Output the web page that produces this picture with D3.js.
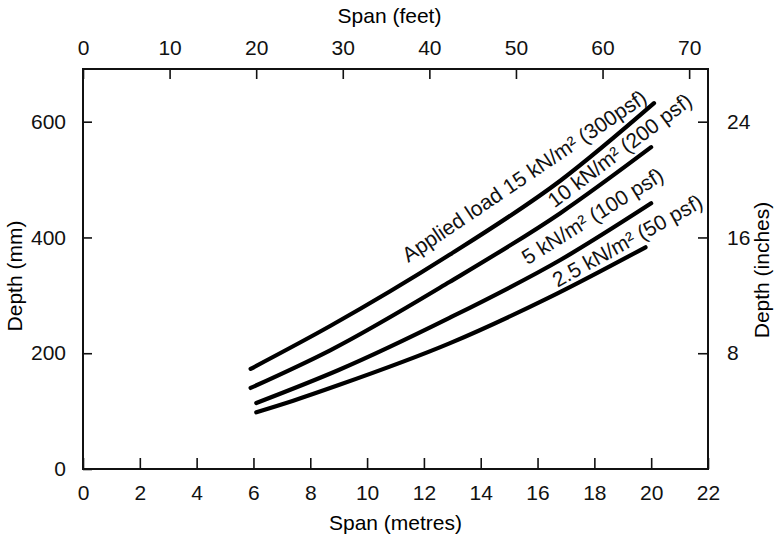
<!DOCTYPE html>
<html>
<head>
<meta charset="utf-8">
<script src="https://cdn.jsdelivr.net/npm/d3@7"></script>
<style>
body { margin: 0; background: #fff; }
svg { display: block; font-family: "Liberation Sans", Arial, Helvetica, sans-serif; }
</style>
</head>
<body>
<svg width="775" height="537"></svg>
<script>
// spans (m) and depths (mm)
var span15 = [5.9, 8.7, 12.9, 16.8, 20.1]
var depth15 = [173, 247, 370, 498, 632]
var span10 = [5.9, 8.7, 12.9, 16.8, 20.0]
var depth10 = [140, 205, 323, 442, 556]
var span5 = [6.1, 9.0, 12.9, 16.8, 20.0]
var depth5 = [114, 171, 261, 361, 459]
var span2p5 = [6.1, 7.4, 9.0, 12.9, 16.4, 19.8]
var depth2p5 = [98, 118, 145, 217, 296, 383]

var loadLabels = ['Applied load 15 kN/m\u00b2 (300psf)', '10 kN/m\u00b2 (200 psf)', '5 kN/m\u00b2 (100 psf)', '2.5 kN/m\u00b2 (50 psf)']

// tick values
var metreTicks = [0, 2, 4, 6, 8, 10, 12, 14, 16, 18, 20, 22]
var feetTicks = [0, 10, 20, 30, 40, 50, 60, 70]
var mmTicks = [0, 200, 400, 600]
var inchTicks = [8, 16, 24]

var curves = [
    {span: span15, depth: depth15},
    {span: span10, depth: depth10},
    {span: span5, depth: depth5},
    {span: span2p5, depth: depth2p5}
]

// plot box (careful: "top" is taken by window)
var boxL = 83, boxT = 69, boxR = 708, boxB = 469

var svg = d3.select('svg')

var mapX = d3.scaleLinear()
            .domain([0, 22])
            .range([boxL, boxR])
// feet on top, same span
var mapFeet = mapX.copy().domain([0, 22 / 0.3048])

var mapY = d3.scaleLinear()
            .domain([0, 691])
            .range([boxB, boxT])
// inches on the right, the drawing lines 8 in up with 200 mm
var mapInch = mapY.copy().domain([0, 691 / 25])

var xAxis = d3.axisBottom(mapX).tickValues(metreTicks).tickSizeInner(-11).tickSizeOuter(0).tickPadding(16)
var topAxis = d3.axisTop(mapFeet).tickValues(feetTicks).tickSizeInner(-10).tickSizeOuter(0).tickPadding(14)
var yAxis = d3.axisLeft(mapY).tickValues(mmTicks).tickSizeInner(-9).tickSizeOuter(0).tickPadding(17)
var rightAxis = d3.axisRight(mapInch).tickValues(inchTicks).tickSizeInner(-10).tickSizeOuter(0).tickPadding(19)

function styleAxis(g) {
    g.select('.domain').remove()
    g.selectAll('.tick line').attr('stroke', '#111').attr('stroke-width', 1.6)
    g.selectAll('.tick text').attr('fill', '#111').style('font-size', '21px')
    g.attr('font-family', null).attr('font-size', null)
}

svg.append('g').attr('transform', 'translate(0,' + boxB + ')').call(xAxis).call(styleAxis)
svg.append('g').attr('transform', 'translate(0,' + boxT + ')').call(topAxis).call(styleAxis)
svg.append('g').attr('transform', 'translate(' + boxL + ',0)').call(yAxis).call(styleAxis)
svg.append('g').attr('transform', 'translate(' + boxR + ',0)').call(rightAxis).call(styleAxis)

// frame
svg.append('rect')
    .attr('x', boxL).attr('y', boxT)
    .attr('width', boxR - boxL).attr('height', boxB - boxT)
    .attr('fill', 'none')
    .attr('stroke', '#111')
    .attr('stroke-width', 2)

var line = d3.line()
            .x(function(d){ return mapX(d[0]) })
            .y(function(d){ return mapY(d[1]) })
            .curve(d3.curveMonotoneX)

svg.selectAll('path.load')
    .data(curves)
    .enter()
    .append('path')
    .attr('class', 'load')
    .attr('d', function(c){
        return line(c.span.map(function(s, i){ return [s, c.depth[i]] }))
    })
    .attr('fill', 'none')
    .attr('stroke', '#000')
    .attr('stroke-width', 4.2)
    .attr('stroke-linecap', 'round')

// curve labels, start of baseline in span/depth and their slant
var labelSpan = [11.45, 16.6, 15.65, 16.7]
var labelDepth = [356, 450, 352, 313]
var labelAngle = [-34, -37, -32, -29]

svg.selectAll('text.load')
    .data(loadLabels)
    .enter()
    .append('text')
    .attr('class', 'load')
    .attr('transform', function(d, i){
        return 'translate(' + mapX(labelSpan[i]) + ',' + mapY(labelDepth[i]) + ') rotate(' + labelAngle[i] + ')'
    })
    .style('font-size', '21px')
    .attr('fill', '#111')
    .text(function(d){ return d })

// axis titles
svg.append('text')
    .attr('x', (boxL + boxR) / 2 - 6).attr('y', 23)
    .attr('text-anchor', 'middle')
    .style('font-size', '21px')
    .text('Span (feet)')
svg.append('text')
    .attr('x', (boxL + boxR) / 2).attr('y', 530)
    .attr('text-anchor', 'middle')
    .style('font-size', '21px')
    .text('Span (metres)')
svg.append('text')
    .attr('transform', 'translate(22,276) rotate(-90)')
    .attr('text-anchor', 'middle')
    .style('font-size', '21px')
    .text('Depth (mm)')
svg.append('text')
    .attr('transform', 'translate(769,270) rotate(-90)')
    .attr('text-anchor', 'middle')
    .style('font-size', '21px')
    .text('Depth (inches)')
</script>
</body>
</html>
